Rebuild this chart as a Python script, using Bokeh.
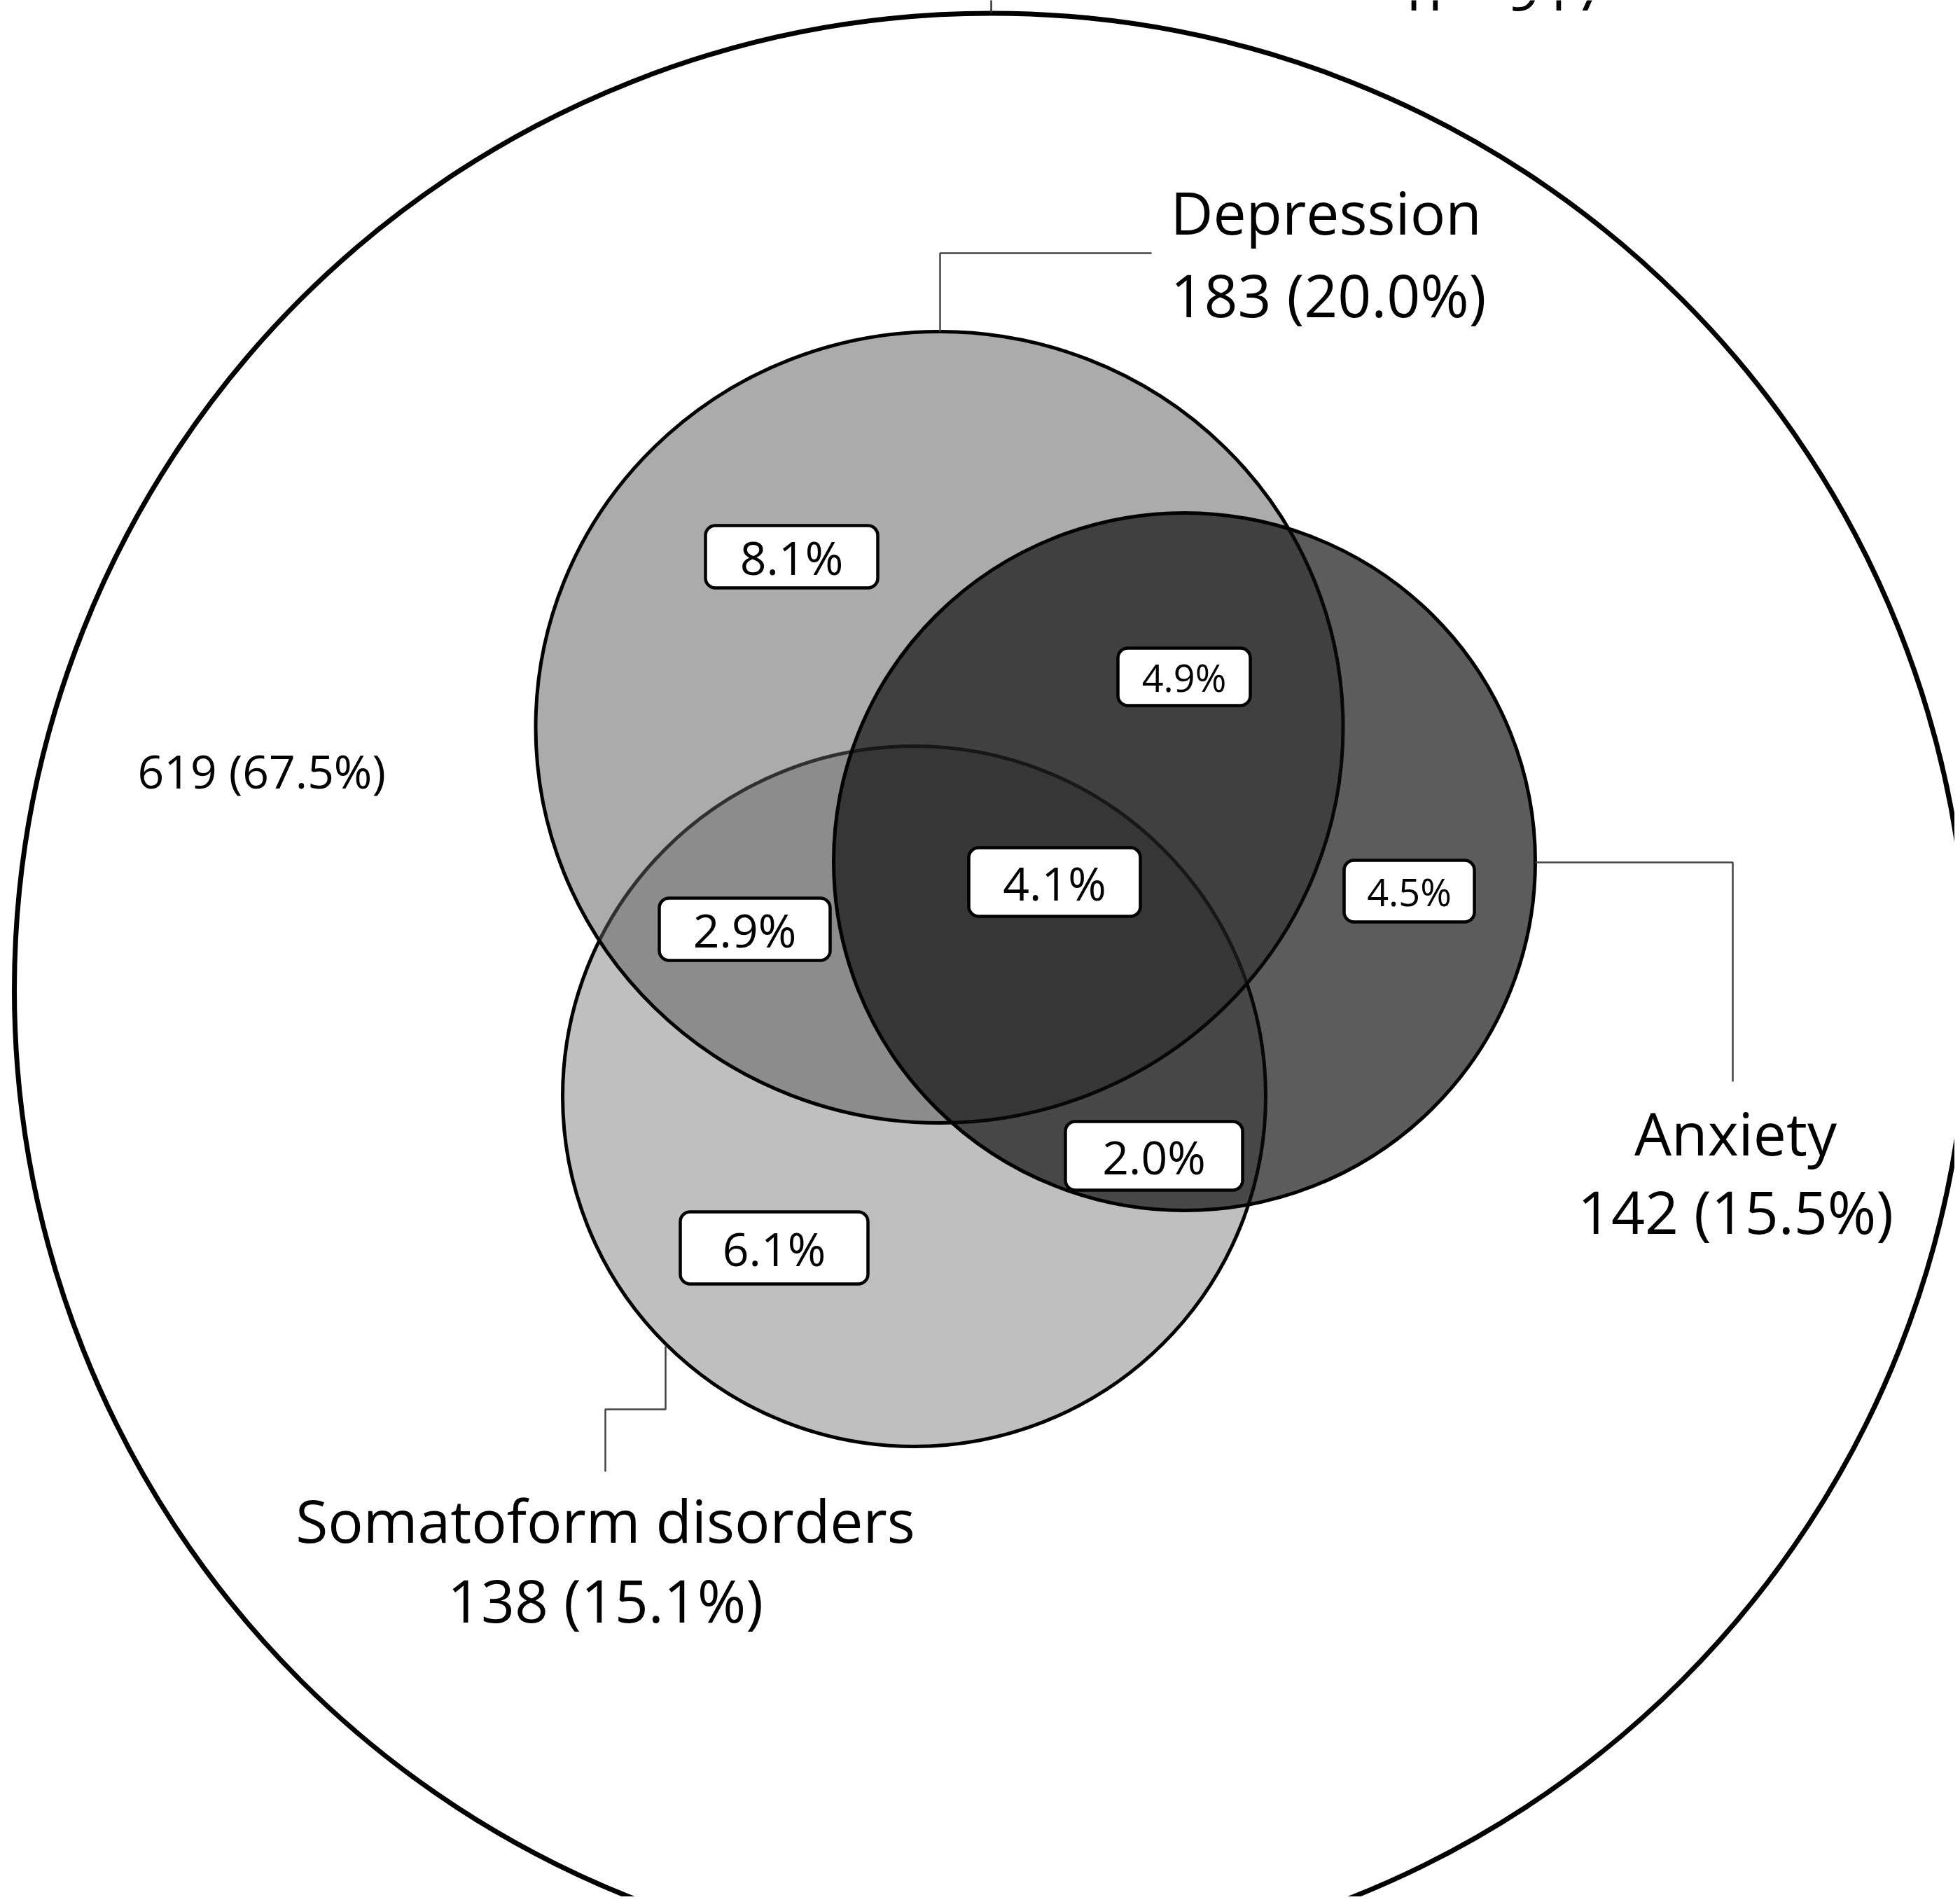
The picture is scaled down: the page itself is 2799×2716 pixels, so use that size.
from bokeh.plotting import figure
from bokeh.models import Range1d
from bokeh.core.properties import value
from bokeh.embed import file_html
from bokeh.resources import INLINE

# ---------------- data ----------------
total_n = 917
none_count = 619
none_pct = 67.5
set_names = ["Depression", "Anxiety", "Somatoform disorders"]
set_counts = [183, 142, 138]
set_pcts = [20.0, 15.5, 15.1]
# regions: D only, D&A only, D&A&S, D&S only, A only, A&S only, S only
region_keys = ["D", "DA", "DAS", "DS", "A", "AS", "S"]
region_pcts = [8.1, 4.9, 4.1, 2.9, 4.5, 2.0, 6.1]

# ---------------- layout (reference pixel coordinates) ----------------
FONT = value("Open Sans")
W, H = 2791, 2708
p = figure(width=W, height=H, x_range=Range1d(0, W), y_range=Range1d(H, 0),
           output_backend="svg", toolbar_location=None,
           x_axis_type=None, y_axis_type=None, min_border=0)
p.outline_line_color = None
p.background_fill_color = "white"
p.border_fill_color = "white"

# outer universe circle
p.ellipse(x=[1415], y=[1413], width=[2790], height=[2790], fill_color=None,
          line_color="black", line_width=7)
p.line(x=[1415, 1415], y=[18, -20], line_color="#333333", line_width=2.5)

# set circles: order of drawing S (bottom), D, A (top)
circ = {
    "Somatoform disorders": dict(x=1305, y=1565, w=1004, h=1000, fill=(191, 191, 191), alpha=1.0),
    "Depression": dict(x=1341, y=1038, w=1153, h=1130, fill=(92, 92, 92), alpha=0.516),
    "Anxiety": dict(x=1691, y=1230, w=1002, h=996, fill=(10, 10, 10), alpha=0.667),
}
for name in ["Somatoform disorders", "Depression", "Anxiety"]:
    c = circ[name]
    p.ellipse(x=[c["x"]], y=[c["y"]], width=[c["w"]], height=[c["h"]],
              fill_color="#%02x%02x%02x" % c["fill"], fill_alpha=c["alpha"],
              line_color="black", line_width=5)

# connectors
conn_color = "#444444"
p.line(x=[1342, 1342, 1644], y=[473, 361, 361], line_color=conn_color, line_width=2.5)
p.line(x=[2192, 2474, 2474], y=[1231, 1231, 1544], line_color=conn_color, line_width=2.5)
p.line(x=[950, 950, 864, 864], y=[1922, 2012, 2012, 2101], line_color=conn_color, line_width=2.5)

# set labels
lab_pos = {
    "Depression": dict(x=1671, y1=302, y2=420, align="left"),
    "Anxiety": dict(x=2478, y1=1617, y2=1729, align="center"),
    "Somatoform disorders": dict(x=864, y1=2170, y2=2284, align="center"),
}
for name, cnt, pct in zip(set_names, set_counts, set_pcts):
    lp = lab_pos[name]
    p.text(x=[lp["x"], lp["x"]], y=[lp["y1"], lp["y2"]],
           text=[name, f"{cnt} ({pct:.1f}%)"], text_font=FONT, text_font_size="84px",
           text_align=lp["align"], text_baseline="middle", text_color="black")

# none label and n
p.text(x=[196], y=[1099], text=[f"{none_count} ({none_pct:.1f}%)"], text_font=FONT,
       text_font_size="66px", text_align="left", text_baseline="middle", text_color="black")
p.text(x=[2008], y=[-18], text=[f"n = {total_n}"], text_font=FONT, text_font_size="84px",
       text_align="left", text_baseline="alphabetic", text_color="black")

# region label boxes
box_pos = {
    "D": (1007, 1253, 750, 839, 66),
    "DA": (1596, 1785, 925, 1007, 54),
    "DAS": (1383, 1628, 1210, 1308, 66),
    "DS": (941, 1185, 1282, 1371, 66),
    "A": (1919, 2105, 1228, 1316, 54),
    "AS": (1521, 1774, 1601, 1699, 66),
    "S": (971, 1239, 1730, 1833, 66),
}
for key, pct in zip(region_keys, region_pcts):
    l, r, t, b, fs = box_pos[key]
    p.quad(left=[l], right=[r], top=[t], bottom=[b], fill_color="white",
           line_color="black", line_width=4.5, border_radius=14)
    p.text(x=[(l + r) / 2], y=[(t + b) / 2], text=[f"{pct:.1f}%"], text_font=FONT,
           text_font_size=f"{fs}px", text_align="center", text_baseline="middle",
           text_color="black")

open("out.html", "w").write(file_html(p, INLINE))
